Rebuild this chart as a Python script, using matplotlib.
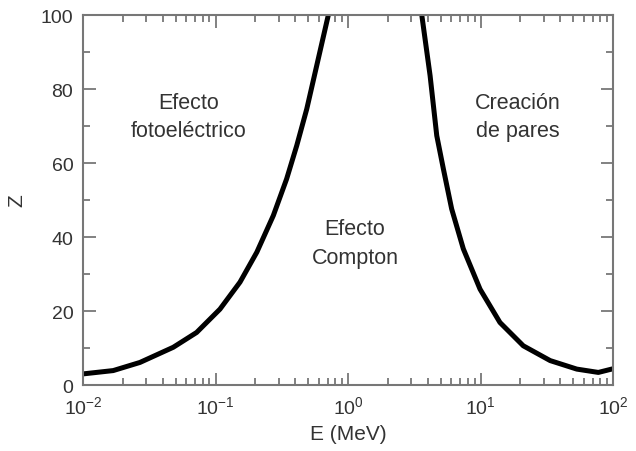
import matplotlib
matplotlib.use("Agg")
import matplotlib.pyplot as plt
from matplotlib.ticker import LogLocator, MultipleLocator, NullFormatter

plt.rcParams['font.family'] = ['Liberation Sans', 'DejaVu Sans']

# boundary photoelectric / Compton
e_foto = [0.01, 0.0169, 0.0269, 0.048, 0.072, 0.108, 0.153, 0.205, 0.273,
          0.344, 0.410, 0.488, 0.580, 0.71]
z_foto = [3.0, 3.9, 6.1, 10.2, 14.2, 20.5, 27.8, 35.9, 45.8,
          55.7, 64.7, 74.6, 86.3, 100.0]

# boundary Compton / pair production
e_pares = [3.60, 4.16, 4.67, 5.24, 6.05, 7.41, 9.91, 14.0, 21.0,
           33.5, 53.2, 77.4, 100.0]
z_pares = [100.0, 83.6, 67.4, 58.4, 47.6, 36.8, 25.9, 16.9, 10.6,
           6.6, 4.3, 3.4, 4.4]

regiones = ["Efecto\nfotoeléctrico", "Efecto\nCompton", "Creación\nde pares"]
reg_e = [0.063, 1.13, 19.2]
reg_z = [72.5, 38.4, 72.5]

gris = '#777777'
texto = '#333333'

fig = plt.figure(figsize=(6.36, 4.52), dpi=100)
ax = fig.add_axes([0.1305, 0.146, 0.8335, 0.8186])

for e, z in [(e_foto, z_foto), (e_pares, z_pares)]:
    ax.plot(e, z, color='black', lw=3.6, solid_joinstyle='round',
            solid_capstyle='butt')

for t, x, y in zip(regiones, reg_e, reg_z):
    ax.text(x, y, t, ha='center', va='center', fontsize=15.5,
            color=texto, linespacing=1.45)

ax.set_xscale('log')
ax.set_xlim(1e-2, 1e2)
ax.set_ylim(0, 100)
ax.xaxis.set_major_locator(LogLocator(base=10, numticks=10))
ax.xaxis.set_minor_locator(LogLocator(base=10, subs=range(2, 10), numticks=10))
ax.xaxis.set_minor_formatter(NullFormatter())
ax.yaxis.set_major_locator(MultipleLocator(20))
ax.yaxis.set_minor_locator(MultipleLocator(10))

for s in ax.spines.values():
    s.set_color(gris)
    s.set_linewidth(1.5)
ax.tick_params(which='both', direction='in', top=True, right=True,
               color=gris, width=1.3, labelsize=14, labelcolor=texto)
ax.tick_params(which='major', length=9, pad=7)
ax.tick_params(which='minor', length=5)

ax.set_xlabel('E (MeV)', fontsize=15, color=texto, labelpad=5)
ax.set_ylabel('Z', fontsize=15, color=texto, labelpad=10)

fig.savefig('out.png', dpi=100)
